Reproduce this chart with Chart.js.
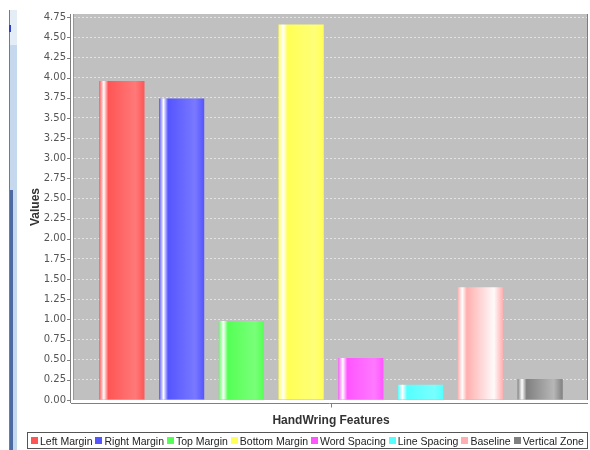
<!DOCTYPE html>
<html>
<head>
<meta charset="utf-8">
<script src="https://cdn.jsdelivr.net/npm/chart.js@4"></script>
<style>
  html, body { margin: 0; padding: 0; background: #fff; }
  #wrap { position: relative; width: 590px; height: 450px; overflow: hidden; }
  #c { position: absolute; left: 0; top: 0; }
  .edge { position: absolute; }
  #legend {
    position: absolute; left: 27px; top: 432px; width: 561px; height: 17px;
    border: 1px solid #555; box-sizing: border-box;
    display: flex; justify-content: space-between; align-items: center;
    padding: 0 3px 0 3px;
    font-family: "Liberation Sans", sans-serif; font-size: 10.5px; color: #222;
  }
  #legend span { display: flex; align-items: center; white-space: nowrap; }
  #legend i { display: inline-block; width: 7px; height: 7px; margin-right: 2px; }
</style>
</head>
<body>
<div id="wrap">
  <div class="edge" style="left:9px;top:10px;width:1px;height:440px;background:#7a7a7a"></div>
  <div class="edge" style="left:10px;top:10px;width:7px;height:440px;background:#c6d8ee"></div>
  <div class="edge" style="left:10px;top:10px;width:7px;height:35px;background:#e4ecf6"></div>
  <div class="edge" style="left:10px;top:190px;width:3px;height:260px;background:#4d6ba3"></div>
  <div class="edge" style="left:9px;top:25px;width:2px;height:7px;background:#2a3fd0"></div>
  <canvas id="c" width="590" height="450"></canvas>
  <div id="legend"></div>
</div>
<script>
const categories = [''];
const features = ['Left Margin', 'Right Margin', 'Top Margin', 'Bottom Margin',
                  'Word Spacing', 'Line Spacing', 'Baseline', 'Vertical Zone'];
const values = [3.96, 3.74, 0.98, 4.66, 0.52, 0.19, 1.40, 0.26];
const colors = ['#ff5555', '#5555ff', '#55ff55', '#ffff55',
                '#ff55ff', '#55ffff', '#ffafaf', '#808080'];

const CAT_PCT = 0.93;
const BAR_PCT = 0.757;

// java-style Color.brighter()
function brighter(hex) {
  const n = parseInt(hex.slice(1), 16);
  const c = [n >> 16, (n >> 8) & 255, n & 255].map(v => Math.min(255, Math.round(v / 0.7)));
  return 'rgb(' + c.join(',') + ')';
}

function barFill(ctx) {
  const chart = ctx.chart, area = chart.chartArea;
  const base = colors[ctx.datasetIndex];
  if (!area || !chart.scales.x) return base;
  const slot = (area.right - area.left) * CAT_PCT / features.length;
  const w = slot * BAR_PCT;
  const cx = chart.scales.x.getPixelForValue(0) + (ctx.datasetIndex - (features.length - 1) / 2) * slot;
  const x0 = cx - w / 2;
  const g = chart.ctx.createLinearGradient(x0, 0, x0 + w, 0);
  g.addColorStop(0, base);
  g.addColorStop(0.1, '#ffffff');
  g.addColorStop(0.2, base);
  g.addColorStop(0.8, brighter(base));
  g.addColorStop(1, base);
  return g;
}

const frame = {
  id: 'frame',
  beforeDraw(chart) {
    const { ctx, chartArea: a } = chart;
    ctx.save();
    ctx.fillStyle = '#c0c0c0';
    ctx.fillRect(a.left, a.top, a.right - a.left, a.bottom - a.top);
    ctx.restore();
  },
  afterDraw(chart) {
    const { ctx, chartArea: a, scales } = chart;
    ctx.save();
    ctx.lineWidth = 1;
    // plot outline, sides only
    ctx.strokeStyle = '#9a9a9a';
    ctx.beginPath();
    ctx.moveTo(a.left - 0.5, a.top);
    ctx.lineTo(a.left - 0.5, a.bottom);
    ctx.stroke();
    ctx.strokeStyle = '#7c7c7c';
    ctx.beginPath();
    ctx.moveTo(a.right - 0.5, a.top);
    ctx.lineTo(a.right - 0.5, a.bottom);
    ctx.stroke();
    // axis lines, offset from the plot
    ctx.strokeStyle = '#808080';
    ctx.beginPath();
    ctx.moveTo(a.left - 3.5, a.top);
    ctx.lineTo(a.left - 3.5, a.bottom + 3);
    ctx.moveTo(a.left - 3, a.bottom + 3.5);
    ctx.lineTo(a.right, a.bottom + 3.5);
    scales.y.ticks.forEach(t => {
      const y = Math.round(scales.y.getPixelForValue(t.value)) + 0.5;
      ctx.moveTo(a.left - 7, y);
      ctx.lineTo(a.left - 3.5, y);
    });
    const tx = Math.round(scales.x.getPixelForValue(0)) + 0.5;
    ctx.moveTo(tx, a.bottom + 3.5);
    ctx.lineTo(tx, a.bottom + 7.5);
    ctx.stroke();
    ctx.restore();
  }
};

new Chart(document.getElementById('c'), {
  type: 'bar',
  data: {
    labels: categories,
    datasets: features.map((f, i) => ({
      label: f,
      data: [values[i]],
      backgroundColor: barFill,
      borderWidth: 0,
      categoryPercentage: CAT_PCT,
      barPercentage: BAR_PCT,
    })),
  },
  options: {
    responsive: false,
    animation: false,
    layout: { padding: { left: 24, right: 2, top: 10, bottom: 18 } },
    plugins: {
      legend: { display: false },
      tooltip: { enabled: false },
    },
    scales: {
      x: {
        grid: { display: false, drawTicks: false },
        border: { display: false },
        ticks: { display: false },
        title: {
          display: true,
          text: 'HandWring Features',
          color: '#333',
          font: { family: 'Liberation Sans', weight: 'bold', size: 12 },
          padding: { top: 4, bottom: 4 },
        },
        afterFit: s => { s.height = 32; },
      },
      y: {
        min: 0,
        max: 4.79,
        ticks: {
          stepSize: 0.25,
          includeBounds: false,
          padding: 8,
          color: '#555',
          font: { family: 'DejaVu Sans', size: 10 },
          callback: v => v.toFixed(2),
        },
        grid: { color: 'rgba(255,255,255,0.55)', drawTicks: false, lineWidth: 1 },
        border: { display: false, dash: [2, 2] },
        title: {
          display: true,
          text: 'Values',
          color: '#333',
          font: { family: 'Liberation Sans', weight: 'bold', size: 12 },
          padding: { top: 4, bottom: 4 },
        },
        afterFit: s => { s.width = 50; },
      },
    },
  },
  plugins: [frame],
});

// legend built from the same arrays
const legend = document.getElementById('legend');
features.forEach((f, i) => {
  const s = document.createElement('span');
  const box = document.createElement('i');
  box.style.background = colors[i];
  s.appendChild(box);
  s.appendChild(document.createTextNode(f));
  legend.appendChild(s);
});
</script>
</body>
</html>
